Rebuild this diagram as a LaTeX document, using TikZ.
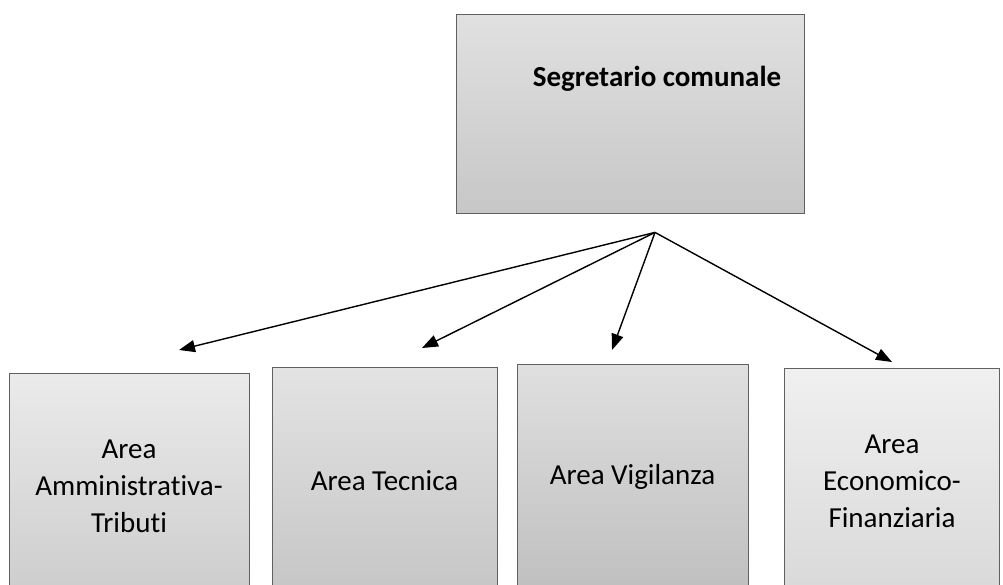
\documentclass[tikz,border=0pt]{standalone}
\usepackage{fontspec}
\setmainfont{Carlito}[Ligatures=NoCommon]
\usetikzlibrary{arrows.meta,calc,positioning}

\begin{document}
\begin{tikzpicture}[x=1pt,y=-1pt]
    \tikzstyle{box}=[draw=gray!75!black, line width=0.8pt, inner sep=0pt, align=center]
    \tikzstyle{area}=[box, anchor=north, minimum height=226pt, font=\fontsize{29}{37}\selectfont]
    \tikzstyle{link}=[black, line width=1.4pt, -{Triangle[length=16pt,width=12pt]}]

    \clip (0,0) rectangle (1003,584);
    \fill[white] (0,0) rectangle (1003,584);

    % top box
    \node[box, minimum width=348pt, minimum height=199pt, top color=gray!24, bottom color=gray!44] (segr) at (630,113.5) {};
    \node[font=\bfseries\fontsize{29}{35}\selectfont] (segrlbl) at ($(segr.center)+(27,-35)$) {Segretario comunale};

    % areas
    \node[area, minimum width=240pt, top color=gray!16, bottom color=gray!40] (amm) at (129,373) {Area\\Amministrativa-\\Tributi};
    \node[area, minimum width=225pt, top color=gray!22, bottom color=gray!45] (tec) at (384.5,367) {Area Tecnica};
    \node[area, minimum width=231pt, top color=gray!25, bottom color=gray!50] (vig) at (632.5,364) {Area Vigilanza};
    \node[area, minimum width=215pt, top color=gray!12, bottom color=gray!30] (eco) at (892,368) {Area\\Economico-\\Finanziaria};

    % arrows
    \coordinate (hub) at ($(segr.south)+(25,19)$);
    \draw[link] (hub) -- ($(amm.north)+(50,-23)$);
    \draw[link] (hub) -- ($(tec.north)+(37.5,-19)$);
    \draw[link] (hub) -- ($(vig.north)+(-20.5,-14)$);
    \draw[link] (hub) -- ($(eco.north)+(0,-6)$);
\end{tikzpicture}
\end{document}
